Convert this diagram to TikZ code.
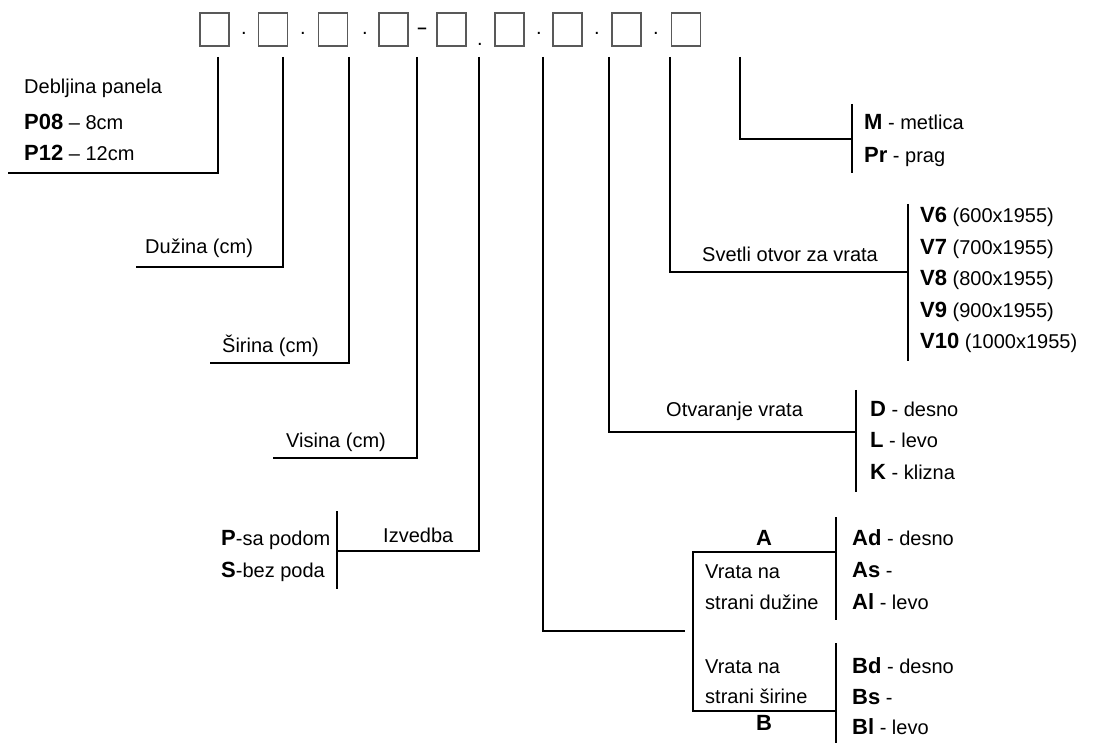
\documentclass[tikz,border=0pt]{standalone}
\usepackage{fontspec}
\setmainfont{Liberation Sans}
\newcommand\kb[1]{{\fontsize{22}{26}\selectfont\bfseries #1}}
\begin{document}
\begin{tikzpicture}[x=1pt,y=-1pt,
  ln/.style={line width=2pt, line join=miter, draw=black},
  cell/.style={draw=black!65, line width=1.4pt, minimum width=29pt, minimum height=33pt, inner sep=0pt},
  txt/.style={anchor=base west, inner sep=0pt, font=\fontsize{20}{24}\selectfont},
  ctxt/.style={anchor=base, inner sep=0pt, font=\fontsize{22}{26}\selectfont\bfseries},
  sepc/.style={anchor=base, inner sep=0pt, font=\fontsize{20}{24}\selectfont}]
\useasboundingbox (0,0) rectangle (1096,743);
% code boxes
\node[cell] (b1) at (214.5,29.5) {};
\node[cell] (b2) at (273,29.5) {};
\node[cell] (b3) at (333,29.5) {};
\node[cell] (b4) at (393.5,29.5) {};
\node[cell] (b5) at (451.5,29.5) {};
\node[cell] (b6) at (509.5,29.5) {};
\node[cell] (b7) at (567.5,29.5) {};
\node[cell] (b8) at (626.5,29.5) {};
\node[cell] (b9) at (686,29.5) {};
% separators
\node[sepc] (s1) at (244,35) {.};
\node[sepc] (s2) at (303,35) {.};
\node[sepc] (s3) at (365,35) {.};
\node[sepc, font=\fontsize{17}{21}\selectfont\bfseries] (s4) at (422,33.5) {–};
\node[sepc] (s5) at (480,46) {.};
\node[sepc] (s6) at (539,35) {.};
\node[sepc] (s7) at (597,35) {.};
\node[sepc] (s8) at (656,35) {.};
% leader coordinates
\coordinate (t1) at (218,57);  \coordinate (e1) at (8,173);
\coordinate (t2) at (283,57);  \coordinate (e2) at (136,267);
\coordinate (t3) at (349,57);  \coordinate (e3) at (210,363);
\coordinate (t4) at (417,57);  \coordinate (e4) at (273,458);
\coordinate (t5) at (479,57);  \coordinate (e5) at (337,551);
\coordinate (t6) at (543,57);  \coordinate (e6) at (685,631);
\coordinate (t7) at (609,57);  \coordinate (e7) at (856,432);
\coordinate (t8) at (670,57);  \coordinate (e8) at (908,272);
\coordinate (t9) at (740,57);  \coordinate (e9) at (852,139);
\draw[ln] (t1) |- (e1);
\draw[ln] (t2) |- (e2);
\draw[ln] (t3) |- (e3);
\draw[ln] (t4) |- (e4);
\draw[ln] (t5) |- (e5);
\draw[ln] (t6) |- (e6);
\draw[ln] (t7) |- (e7);
\draw[ln] (t8) |- (e8);
\draw[ln] (t9) |- (e9);
% bars
\coordinate (m1) at (852,104); \coordinate (m2) at (852,173);
\coordinate (v1) at (908,204); \coordinate (v2) at (908,361);
\coordinate (d1) at (856,390); \coordinate (d2) at (856,492);
\coordinate (i1) at (337,511); \coordinate (i2) at (337,589);
\coordinate (a1) at (836,517); \coordinate (a2) at (836,620);
\coordinate (c1) at (836,643); \coordinate (c2) at (836,743);
\draw[ln] (m1) -- (m2);
\draw[ln] (v1) -- (v2);
\draw[ln] (d1) -- (d2);
\draw[ln] (i1) -- (i2);
\draw[ln] (a1) -- (a2);
\draw[ln] (c1) -- (c2);
% bracket for A / B
\coordinate (k1) at (835,552); \coordinate (k2) at (693,552);
\coordinate (k3) at (693,711); \coordinate (k4) at (835,711);
\draw[ln] (k1) -- (k2) -- (k3) -- (k4);
% texts
\node[txt] (deb) at (24,94) {Debljina panela};
\node[txt] (p08) at (24,130) {\kb{P08} – 8cm};
\node[txt] (p12) at (24,161) {\kb{P12} – 12cm};
\node[txt] (duz) at (145,254) {Dužina (cm)};
\node[txt] (sir) at (222,353) {Širina (cm)};
\node[txt] (vis) at (286,448) {Visina (cm)};
\node[txt] (izv) at (383,542) {Izvedba};
\node[txt] (psa) at (221,545) {\kb{P}-sa podom};
\node[txt] (sbez) at (221,577) {\kb{S}-bez poda};
\node[txt] (met) at (864,130) {\kb{M} - metlica};
\node[txt] (prag) at (864,163) {\kb{Pr} - prag};
\node[txt] (svet) at (702,262) {Svetli otvor za vrata};
\node[txt] (v6) at (920,223) {\kb{V6} (600x1955)};
\node[txt] (v7) at (920,254.5) {\kb{V7} (700x1955)};
\node[txt] (v8) at (920,286) {\kb{V8} (800x1955)};
\node[txt] (v9) at (920,317.5) {\kb{V9} (900x1955)};
\node[txt] (v10) at (920,349) {\kb{V10} (1000x1955)};
\node[txt] (otv) at (666,417) {Otvaranje vrata};
\node[txt] (dd) at (870,417) {\kb{D} - desno};
\node[txt] (ll) at (870,448) {\kb{L} - levo};
\node[txt] (kk) at (870,479) {\kb{K} - klizna};
\node[ctxt] (aa) at (764,545) {A};
\node[ctxt] (bb) at (764,730) {B};
\node[txt] (vn1) at (705,578) {Vrata na};
\node[txt] (sd) at (705,609) {strani dužine};
\node[txt] (vn2) at (705,673) {Vrata na};
\node[txt] (ss) at (705,703) {strani širine};
\node[txt] (ad) at (852,545) {\kb{Ad} - desno};
\node[txt] (as) at (852,577) {\kb{As} -};
\node[txt] (al) at (852,609) {\kb{Al} - levo};
\node[txt] (bd) at (852,673) {\kb{Bd} - desno};
\node[txt] (bs) at (852,704) {\kb{Bs} -};
\node[txt] (bl) at (852,734) {\kb{Bl} - levo};
\end{tikzpicture}
\end{document}
